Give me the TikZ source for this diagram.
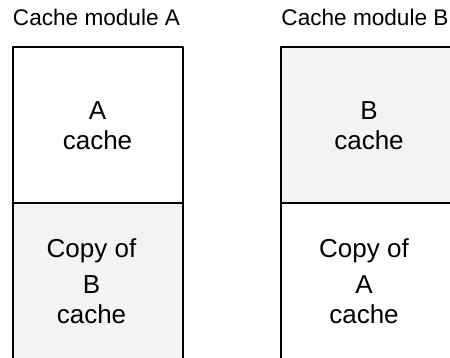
\documentclass[tikz,border=0pt]{standalone}
\usepackage{fontspec}
\setmainfont{Liberation Sans}
\usetikzlibrary{positioning}
\definecolor{cachegray}{HTML}{F3F3F3}
\begin{document}
\begin{tikzpicture}[x=1pt,y=-1pt,line join=round,font=\fontsize{26}{30.5}\selectfont,
	half/.style={draw,line width=2pt,minimum width=170pt,minimum height=156pt,outer sep=0pt,inner sep=0pt},
	cachetext/.style={align=center,inner sep=0pt},
	title/.style={anchor=base,font=\fontsize{22.6}{27}\selectfont}]
	\useasboundingbox (0,0) rectangle (450,358);
	\clip (0,0) rectangle (450,358);
	% module A
	\node[half] (acache) at (97.5,125.5) {};
	\node[half,fill=cachegray,below=0pt of acache] (bcopy) {};
	\node[cachetext] (acachetext) at (acache) {A\\cache};
	\node[cachetext,xshift=-6pt] (bcopytext) at (bcopy) {Copy of\\[5pt]B\\cache};
	\node[title] (atitle) at (96.5,26) {Cache module A};
	% module B
	\node[half,fill=cachegray] (bcache) at (366,125.5) {};
	\node[half,below=0pt of bcache] (acopy) {};
	\node[cachetext,xshift=3pt] (bcachetext) at (bcache) {B\\cache};
	\node[cachetext,xshift=-2pt] (acopytext) at (acopy) {Copy of\\[5pt]A\\cache};
	\node[title] (btitle) at (365,26) {Cache module B};
\end{tikzpicture}
\end{document}
